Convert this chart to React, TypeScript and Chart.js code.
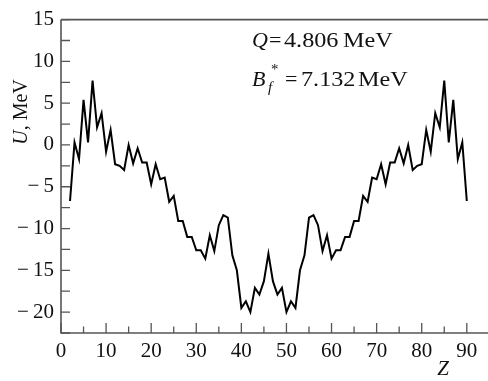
import React, { useEffect, useRef } from 'react';
import { Chart, registerables } from 'chart.js';

Chart.register(...registerables);

const Z_VALUES = [
  2, 3, 4, 5, 6, 7, 8, 9, 10, 11, 12, 13, 14, 15, 16, 17, 18, 19, 20, 21, 22, 23, 24, 25, 26, 27, 28, 29, 30,
  31, 32, 33, 34, 35, 36, 37, 38, 39, 40, 41, 42, 43, 44, 45, 46, 47, 48, 49, 50, 51, 52, 53, 54, 55, 56, 57, 58,
  59, 60, 61, 62, 63, 64, 65, 66, 67, 68, 69, 70, 71, 72, 73, 74, 75, 76, 77, 78, 79, 80, 81, 82, 83, 84, 85, 86,
  87, 88, 89, 90,
];

const U_VALUES = [
  -6.7, 0.3, -1.7, 5.4, 0.3, 7.7, 2.1, 3.8, -0.8, 1.8, -2.3, -2.5, -3.0, 0.0, -2.2, -0.4, -2.1, -2.1, -4.7, -2.3,
  -4.1, -3.9, -6.8, -6.1, -9.1, -9.1, -11.0, -11.0, -12.6, -12.6, -13.6, -10.8, -12.7, -9.6, -8.4, -8.7, -13.2,
  -15.0, -19.5, -18.7, -20.0, -17.1, -17.9, -16.3, -13.0, -16.3, -17.9, -17.1, -20.0, -18.7, -19.5, -15.0, -13.2,
  -8.7, -8.4, -9.6, -12.7, -10.8, -13.6, -12.6, -12.6, -11.0, -11.0, -9.1, -9.1, -6.1, -6.8, -3.9, -4.1, -2.3,
  -4.7, -2.1, -2.1, -0.4, -2.2, 0.0, -3.0, -2.5, -2.3, 1.8, -0.8, 3.8, 2.1, 7.7, 0.3, 5.4, -1.7, 0.3, -6.7,
];

const X_TICKS = [0, 10, 20, 30, 40, 50, 60, 70, 80, 90];
const X_MINOR_TICKS = [5, 15, 25, 35, 45, 55, 65, 75, 85];
const Y_TICKS = [-20, -15, -10, -5, 0, 5, 10, 15];
const Y_MINOR_TICKS = [-22.5, -17.5, -12.5, -7.5, -2.5, 2.5, 7.5, 12.5];

const Q_VALUE = '4.806';
const BF_VALUE = '7.132';
const UNIT = 'MeV';
const Y_TITLE_UNIT = ', MeV';

const FONT = '"Liberation Serif", "Times New Roman", serif';

Chart.defaults.font.family = FONT;

function drawPiece(ctx: CanvasRenderingContext2D, text: string, x: number, y: number, font: string, sx: number) {
  ctx.save();
  ctx.translate(x, y);
  ctx.scale(sx, 1);
  ctx.font = font;
  ctx.fillText(text, 0, 0);
  ctx.restore();
}

const decorPlugin = {
  id: 'decor',
  afterDraw(chart: any) {
    const { ctx, chartArea, scales } = chart;
    const xs = scales.x;
    const ys = scales.y;
    const { left, right, top, bottom } = chartArea;
    ctx.save();
    // frame lines
    ctx.strokeStyle = '#555';
    ctx.lineWidth = 1.6;
    ctx.beginPath();
    ctx.moveTo(left, top);
    ctx.lineTo(right, top);
    ctx.moveTo(left, top);
    ctx.lineTo(left, bottom);
    ctx.lineTo(right, bottom);
    ctx.stroke();
    // inward tick marks
    ctx.lineWidth = 1.3;
    ctx.beginPath();
    X_TICKS.forEach((v) => {
      const px = xs.getPixelForValue(v);
      ctx.moveTo(px, bottom);
      ctx.lineTo(px, bottom - 10);
    });
    X_MINOR_TICKS.forEach((v) => {
      const px = xs.getPixelForValue(v);
      ctx.moveTo(px, bottom);
      ctx.lineTo(px, bottom - 6.5);
    });
    Y_TICKS.concat(Y_MINOR_TICKS).forEach((v) => {
      const py = ys.getPixelForValue(v);
      ctx.moveTo(left, py);
      ctx.lineTo(left + 9, py);
    });
    ctx.stroke();

    ctx.fillStyle = '#111';
    ctx.textBaseline = 'alphabetic';
    ctx.textAlign = 'left';
    const italic = 'italic 22px ' + FONT;
    const normal = '22px ' + FONT;
    const smallIt = 'italic 15px ' + FONT;
    const small = '15px ' + FONT;
    const sx = 1.1;

    // Q annotation
    drawPiece(ctx, 'Q', 252, 47, italic, 1.0);
    drawPiece(ctx, '=', 269, 47, normal, 1.0);
    drawPiece(ctx, Q_VALUE, 284, 47, normal, sx);
    drawPiece(ctx, UNIT, 343, 47, normal, sx);

    // B_f^* annotation
    drawPiece(ctx, 'B', 252, 86, italic, 1.0);
    drawPiece(ctx, 'f', 268, 92, smallIt, 1.0);
    drawPiece(ctx, '*', 271, 74, small, 1.0);
    drawPiece(ctx, '=', 285, 86, normal, 1.0);
    drawPiece(ctx, BF_VALUE, 301, 86, normal, sx);
    drawPiece(ctx, UNIT, 358, 86, normal, sx);

    // x title
    ctx.font = 'italic 21px ' + FONT;
    ctx.textAlign = 'center';
    ctx.fillText('Z', 443, 375);

    // y title
    ctx.save();
    ctx.translate(27, 112);
    ctx.rotate(-Math.PI / 2);
    ctx.textAlign = 'left';
    const it20 = 'italic 20px ' + FONT;
    const n20 = '20px ' + FONT;
    ctx.font = it20;
    const wU = ctx.measureText('U').width;
    ctx.font = n20;
    const wR = ctx.measureText(Y_TITLE_UNIT).width;
    const start = -(wU + wR) / 2;
    ctx.font = it20;
    ctx.fillText('U', start, 0);
    ctx.font = n20;
    ctx.fillText(Y_TITLE_UNIT, start + wU, 0);
    ctx.restore();

    ctx.restore();
  },
};

export default function App() {
  const canvasRef = useRef<HTMLCanvasElement | null>(null);

  useEffect(() => {
    document.body.style.margin = '0';
    const canvas = canvasRef.current;
    if (!canvas) return;
    const points = Z_VALUES.map((z, i) => ({ x: z, y: U_VALUES[i] }));
    const chart = new Chart(canvas, {
      type: 'line',
      data: {
        datasets: [
          {
            data: points,
            borderColor: '#000',
            borderWidth: 2,
            borderJoinStyle: 'miter',
            pointRadius: 0,
            tension: 0,
            fill: false,
          },
        ],
      },
      options: {
        animation: false,
        responsive: false,
        maintainAspectRatio: false,
        devicePixelRatio: 1,
        layout: { padding: { top: 12, right: 0, left: 0, bottom: 0 } },
        plugins: { legend: { display: false }, tooltip: { enabled: false } },
        scales: {
          x: {
            type: 'linear',
            min: 0,
            max: 94.7,
            afterBuildTicks: (scale: any) => {
              scale.ticks = X_TICKS.map((v) => ({ value: v }));
            },
            afterFit: (scale: any) => {
              scale.height = 48;
            },
            grid: { display: false, drawTicks: false },
            border: { display: false },
            ticks: {
              padding: 6,
              color: '#111',
              font: { family: FONT, size: 21 },
              maxRotation: 0,
              autoSkip: false,
              callback: (v: any) => String(v),
            },
          },
          y: {
            type: 'linear',
            min: -22.5,
            max: 15,
            afterBuildTicks: (scale: any) => {
              scale.ticks = Y_TICKS.map((v) => ({ value: v }));
            },
            afterFit: (scale: any) => {
              scale.width = 61;
            },
            grid: { display: false, drawTicks: false },
            border: { display: false },
            ticks: {
              padding: 7,
              color: '#111',
              font: { family: FONT, size: 21 },
              autoSkip: false,
              callback: (v: any) => (Number(v) < 0 ? '\u2212\u2009' + Math.abs(Number(v)) : String(v)),
            },
          },
        },
      },
      plugins: [decorPlugin],
    });
    return () => chart.destroy();
  }, []);

  return (
    <div style={{ width: 488, height: 381 }}>
      <canvas ref={canvasRef} width={488} height={381} style={{ display: 'block', width: 488, height: 381 }} />
    </div>
  );
}
